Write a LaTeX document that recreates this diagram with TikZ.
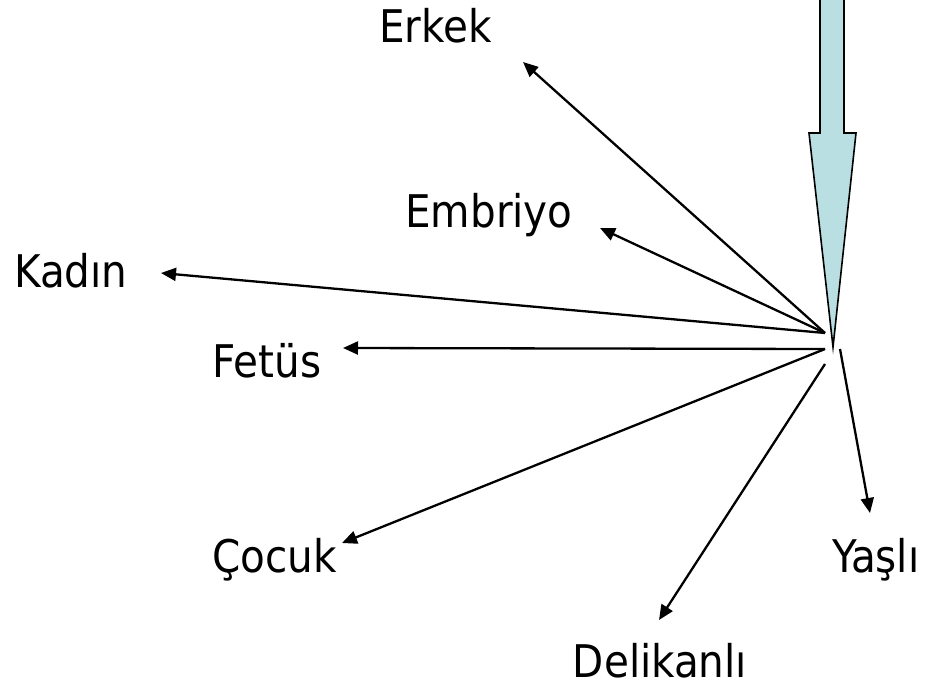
\documentclass[tikz,border=0pt]{standalone}
\usepackage{fontspec}
\setmainfont{DejaVu Sans Condensed}
\usetikzlibrary{arrows.meta}
\definecolor{bigfill}{HTML}{B9DFE3}
\begin{document}
\begin{tikzpicture}[x=1pt,y=-1pt,
  lbl/.style={font=\fontsize{45}{54}\selectfont, inner sep=0pt, anchor=base},
  conn/.style={line width=2.3pt, -{Triangle[length=15pt,width=13pt]}},
  bigarrow/.style={draw=black, line width=1.6pt, fill=bigfill, line join=miter}]
\useasboundingbox (0,0) rectangle (936,687);
% big arrow
\draw[bigarrow] (820,-5) -- (820,133) -- (809,133) -- (833,347) -- (856,133) -- (844,133) -- (844,-5);
% labels
\node[lbl] (erkek) at (435.5,43) {Erkek};
\node[lbl] (embriyo) at (489,227) {Embriyo};
\node[lbl] (kadin) at (71,287) {Kadın};
\node[lbl] (fetus) at (267,377) {Fetüs};
\node[lbl] (cocuk) at (274.5,572) {Çocuk};
\node[lbl] (yasli) at (876,572) {Yaşlı};
\node[lbl] (delikanli) at (660,677) {Delikanlı};
% hub points
\coordinate (hubA) at (825,333);
\coordinate (hubB) at (825,349);
\coordinate (hubC) at (825,364);
\coordinate (hubD) at (840,349);
% arrow tips
\coordinate (tErkek) at (523,62);
\coordinate (tEmbriyo) at (600,228);
\coordinate (tKadin) at (161,273);
\coordinate (tFetus) at (343,348);
\coordinate (tCocuk) at (342,543);
\coordinate (tDelikanli) at (659,620);
\coordinate (tYasli) at (870,513);
% connectors
\draw[conn] (hubA) -- (tErkek);
\draw[conn] (hubA) -- (tEmbriyo);
\draw[conn] (hubA) -- (tKadin);
\draw[conn] (hubB) -- (tFetus);
\draw[conn] (hubB) -- (tCocuk);
\draw[conn] (hubC) -- (tDelikanli);
\draw[conn] (hubD) -- (tYasli);
\end{tikzpicture}
\end{document}
